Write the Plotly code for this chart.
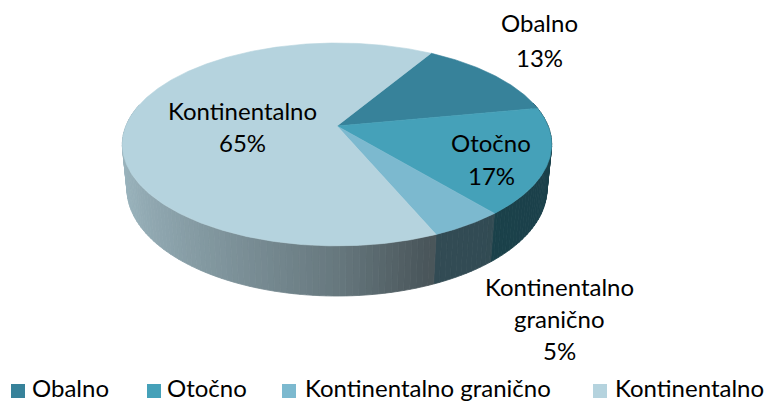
import numpy as np
import plotly.graph_objects as go

# ---------------- data ----------------
categories = ["Obalno", "Otočno", "Kontinentalno granično", "Kontinentalno"]
values = [13.4, 16.9, 4.7, 65.0]
label_lines = [["Obalno"], ["Otočno"], ["Kontinentalno", "granično"], ["Kontinentalno"]]

# ---------------- style ----------------
top_colors = ["#37829A", "#45A1B9", "#7CB9CF", "#B5D3DE"]
label_pos = [(539, 22, 35), (491, 142, 33), (559, 286, 32), (242, 110, 32)]
legend_sq_x = [11, 147, 282, 593]
legend_txt_x = [31, 166, 304, 614]
LEG_Y = 387.5
SQ = 14
FONT = "Lato"
FS = 24
LEG_FS = 24

W, H = 770, 403
START_DEG = 31.0          # rotation of first slice (clockwise from 12 o'clock)
CX, CY = 337.0, 126.0     # projected pie centre
F = 1058.7                # focal scale
FX = 0.977                # extra horizontal squeeze
D = 4.9                   # camera distance (in radii)
PHI = np.arcsin(0.454)    # elevation
THICK = 0.232             # pie thickness (in radii)


def project(theta_deg, z):
    th = np.radians(theta_deg)
    X = np.sin(th)
    Y = -np.cos(th)
    s, c = np.sin(PHI), np.cos(PHI)
    depth = D - (Y * c + z * s)
    return CX + FX * F * X / depth, CY + F * (Y * s - z * c) / depth


def hex2rgb(h):
    h = h.lstrip("#")
    return [int(h[i:i + 2], 16) for i in (0, 2, 4)]


def shade(hexcol, X):
    f = np.interp(X, [-1.0, 0.0, 0.35, 1.0], [0.86, 0.57, 0.41, 0.40])
    r, g, b = hex2rgb(hexcol)
    return "rgb(%d,%d,%d)" % (r * f, g * f, b * f)


total = float(sum(values))
bounds = START_DEG + 360.0 * np.concatenate([[0.0], np.cumsum(values)]) / total


def slice_of(theta):
    t = theta
    while t < bounds[0]:
        t += 360.0
    while t >= bounds[-1]:
        t -= 360.0
    for i in range(len(values)):
        if bounds[i] <= t < bounds[i + 1]:
            return i
    return len(values) - 1


fig = go.Figure()

# ---------- side wall (front-facing part) ----------
angs = list(np.arange(76.0, 284.0, 1.5))
for b in bounds:
    for k in (-360, 0, 360):
        if 76.0 < b + k < 284.0:
            angs.append(b + k)
angs = sorted(set(np.round(angs, 4)))
quads = []
for a0, a1 in zip(angs[:-1], angs[1:]):
    am = 0.5 * (a0 + a1)
    i = slice_of(am)
    X = np.sin(np.radians(am))
    Y = -np.cos(np.radians(am))
    col = shade(top_colors[i], X)
    x0t, y0t = project(a0, 0)
    x1t, y1t = project(a1, 0)
    x0b, y0b = project(a0, -THICK)
    x1b, y1b = project(a1, -THICK)
    quads.append((Y, [x0t, x1t, x1b, x0b, x0t], [y0t, y1t, y1b, y0b, y0t], col))
quads.sort(key=lambda q: q[0])
for _, xs, ys, col in quads:
    fig.add_trace(go.Scatter(x=xs, y=ys, mode="lines", fill="toself",
                             fillcolor=col, line=dict(color=col, width=0.8),
                             hoverinfo="skip", showlegend=False))

# ---------- top face ----------
for i in range(len(values)):
    arc = np.linspace(bounds[i], bounds[i + 1], max(4, int((bounds[i + 1] - bounds[i]) * 2)))
    px, py = project(arc, 0)
    xs = [CX] + list(px) + [CX]
    ys = [CY] + list(py) + [CY]
    fig.add_trace(go.Scatter(x=xs, y=ys, mode="lines", fill="toself", name=categories[i],
                             fillcolor=top_colors[i], line=dict(color=top_colors[i], width=0.6),
                             hoverinfo="skip", showlegend=False))

# ---------- data labels ----------
for i, cat in enumerate(categories):
    pct = "%d%%" % round(values[i] / total * 100)
    lines = label_lines[i] + [pct]
    x, y0, gap = label_pos[i]
    for k, t in enumerate(lines):
        fig.add_annotation(x=x, y=y0 + k * gap, text=t, showarrow=False,
                           xref="x", yref="y", xanchor="center", yanchor="middle",
                           font=dict(family=FONT, size=FS, color="black"))

# ---------- legend ----------
for i, cat in enumerate(categories):
    fig.add_shape(type="rect", xref="x", yref="y",
                  x0=legend_sq_x[i], x1=legend_sq_x[i] + SQ,
                  y0=LEG_Y + 3.5 - SQ / 2, y1=LEG_Y + 3.5 + SQ / 2,
                  fillcolor=top_colors[i], line=dict(width=0))
    fig.add_annotation(x=legend_txt_x[i], y=LEG_Y, text=cat, showarrow=False,
                       xref="x", yref="y", xanchor="left", yanchor="middle",
                       borderpad=0,
                       font=dict(family=FONT, size=LEG_FS, color="black"))

fig.update_layout(
    width=W, height=H,
    margin=dict(l=0, r=0, t=0, b=0),
    paper_bgcolor="white", plot_bgcolor="white",
    xaxis=dict(range=[0, W], visible=False, fixedrange=True),
    yaxis=dict(range=[H, 0], visible=False, fixedrange=True),
    showlegend=False,
)

fig.write_html("out.html", config={"displayModeBar": False},
               post_script="document.body.style.margin='0px';")
